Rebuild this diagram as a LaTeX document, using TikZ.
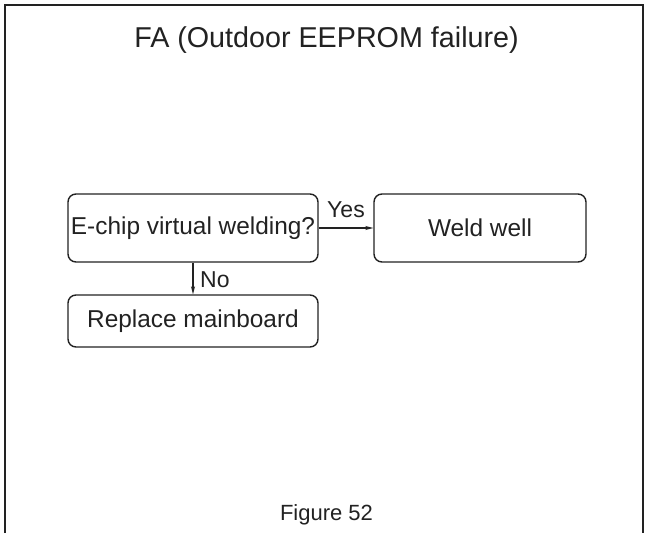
\documentclass[tikz,border=0pt]{standalone}
\usepackage{fontspec}
\setmainfont{Liberation Sans}
\usetikzlibrary{arrows.meta}
\definecolor{ink}{HTML}{222222}
\tikzset{
  box/.style={draw=ink, line width=1.4pt, rounded corners=8pt, align=center, text=ink, font=\fontsize{24.4}{28}\selectfont, inner sep=0pt},
  lbl/.style={text=ink, font=\fontsize{23}{26}\selectfont, inner sep=0pt},
  conn/.style={draw=ink, line width=1.4pt, -{Stealth[length=8pt,width=4pt]}},
}
\begin{document}
\begin{tikzpicture}[x=1pt,y=-1pt]
\useasboundingbox (0,0) rectangle (648,533);
\fill[white] (0,0) rectangle (648,533);
\draw[ink, line width=2pt] (5,533) -- (5,5) -- (643,5) -- (643,533);
\node[text=ink, font=\fontsize{28.7}{32}\selectfont, anchor=base, inner sep=0pt] (title) at (326.5,47) {FA (Outdoor EEPROM failure)};
\node[box, minimum width=250pt, minimum height=68pt] (q) at (193,228) {E-chip virtual welding?};
\node[box, minimum width=212pt, minimum height=68pt] (w) at (480,228) {Weld well};
\node[box, minimum width=250pt, minimum height=52pt] (r) at (193,321) {Replace mainboard};
\draw[conn] (q.east) -- (w.west);
\draw[conn] (q.south) -- (r.north);
\node[lbl, anchor=base] (yes) at (346,217) {Yes};
\node[lbl, anchor=base west] (no) at (200,287) {No};
\node[text=ink, font=\fontsize{22}{25}\selectfont, anchor=base, inner sep=0pt] (fig) at (326.5,520) {Figure 52};
\end{tikzpicture}
\end{document}
